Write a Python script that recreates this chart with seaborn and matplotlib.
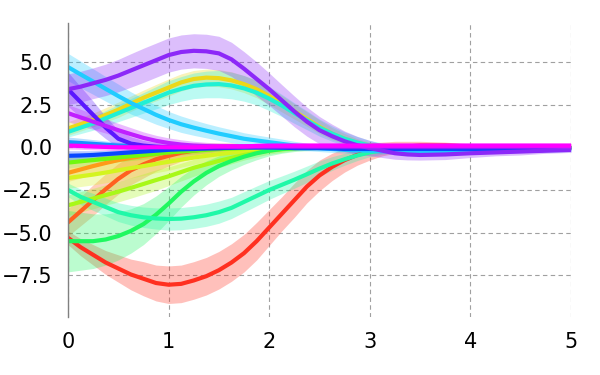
import pandas as pd
import matplotlib
matplotlib.use("Agg")
import matplotlib.pyplot as plt
import seaborn as sns

# ---- data ----
t = [0, 0.125, 0.25, 0.375, 0.5, 0.625, 0.75, 0.875, 1, 1.125, 1.25, 1.375, 1.5, 1.625,
     1.75, 1.875, 2, 2.125, 2.25, 2.375, 2.5, 2.625, 2.75, 2.875, 3, 3.125, 3.25, 3.375, 3.5,
     3.75, 4, 4.25, 4.5, 4.75, 5]

red_mean = [-5.3, -5.85, -6.3, -6.75, -7.1, -7.45, -7.7, -7.95, -8.05, -8.0, -7.8, -7.55, -7.2, -6.75,
            -6.2, -5.5, -4.7, -3.9, -3.1, -2.3, -1.65, -1.15, -0.75, -0.45, -0.25, -0.1, 0.0, 0.05, 0.1,
            0.1, 0.05, 0.05, 0.05, 0.05, 0.05]
red_sd = [0.4, 0.5, 0.6, 0.7, 0.8, 0.9, 1.0, 1.05, 1.1, 1.1, 1.1, 1.1, 1.1, 1.1,
          1.1, 1.1, 1.05, 1.0, 1.0, 0.95, 0.9, 0.8, 0.7, 0.6, 0.5, 0.4, 0.35, 0.3, 0.25,
          0.2, 0.15, 0.15, 0.15, 0.15, 0.15]

orangered_mean = [-4.4, -3.75, -3.1, -2.45, -1.85, -1.35, -1.0, -0.7, -0.5, -0.32, -0.2, -0.1, -0.05, 0.0,
                  0.0, 0.0, 0.0, 0.0, 0.0, 0.0, 0.0, 0.0, 0.0, 0.0, 0.0, 0.0, 0.0, 0.0, 0.0,
                  0.0, 0.0, 0.0, 0.0, 0.0, 0.0]
orangered_sd = [0.8, 0.85, 0.9, 0.9, 0.9, 0.85, 0.8, 0.7, 0.6, 0.5, 0.45, 0.35, 0.3, 0.25,
                0.2, 0.2, 0.15, 0.15, 0.15, 0.1, 0.1, 0.1, 0.1, 0.1, 0.1, 0.1, 0.1, 0.1, 0.1,
                0.1, 0.1, 0.1, 0.1, 0.1, 0.1]

orange_mean = [-1.5, -1.3, -1.1, -0.92, -0.75, -0.62, -0.5, -0.4, -0.3, -0.22, -0.15, -0.1, -0.05, -0.02,
               0.0, 0.0, 0.0, 0.0, 0.0, 0.0, 0.0, 0.0, 0.0, 0.0, 0.0, 0.0, 0.0, 0.0, 0.0,
               0.0, 0.0, 0.0, 0.0, 0.0, 0.0]
orange_sd = [0.5, 0.5, 0.5, 0.5, 0.5, 0.48, 0.45, 0.42, 0.4, 0.35, 0.3, 0.25, 0.2, 0.18,
             0.15, 0.12, 0.1, 0.1, 0.1, 0.1, 0.1, 0.1, 0.1, 0.1, 0.1, 0.1, 0.1, 0.1, 0.1,
             0.1, 0.1, 0.1, 0.1, 0.1, 0.1]

gold_mean = [1.1, 1.35, 1.6, 1.9, 2.2, 2.55, 2.9, 3.2, 3.5, 3.8, 4.0, 4.08, 4.05, 3.92,
             3.7, 3.4, 3.0, 2.55, 2.1, 1.65, 1.2, 0.8, 0.5, 0.25, 0.1, 0.0, -0.05, -0.05, -0.05,
             0.0, 0.0, 0.0, 0.0, 0.0, 0.0]
gold_sd = [0.4, 0.4, 0.4, 0.42, 0.45, 0.45, 0.45, 0.48, 0.5, 0.5, 0.5, 0.5, 0.5, 0.5,
           0.5, 0.5, 0.5, 0.48, 0.45, 0.42, 0.4, 0.35, 0.3, 0.25, 0.2, 0.18, 0.15, 0.12, 0.1,
           0.1, 0.1, 0.1, 0.1, 0.1, 0.1]

yellowgreen_mean = [-1.8, -1.7, -1.6, -1.48, -1.35, -1.22, -1.1, -0.97, -0.85, -0.72, -0.6, -0.5, -0.4, -0.32,
                    -0.25, -0.17, -0.1, -0.05, 0.0, 0.0, 0.0, 0.0, 0.0, 0.0, 0.0, 0.0, 0.0, 0.0, 0.0,
                    0.0, 0.0, 0.0, 0.0, 0.0, 0.0]
yellowgreen_sd = [0.6, 0.6, 0.6, 0.6, 0.6, 0.58, 0.55, 0.52, 0.5, 0.45, 0.4, 0.35, 0.3, 0.25,
                  0.2, 0.18, 0.15, 0.12, 0.1, 0.1, 0.1, 0.1, 0.1, 0.1, 0.1, 0.1, 0.1, 0.1, 0.1,
                  0.1, 0.1, 0.1, 0.1, 0.1, 0.1]

chartreuse_mean = [-3.4, -3.2, -3.0, -2.8, -2.6, -2.38, -2.15, -1.92, -1.7, -1.45, -1.2, -1.0, -0.8, -0.62,
                   -0.45, -0.32, -0.2, -0.12, -0.05, -0.02, 0.0, 0.0, 0.0, 0.0, 0.0, 0.0, 0.0, 0.0, 0.0,
                   0.0, 0.0, 0.0, 0.0, 0.0, 0.0]
chartreuse_sd = [0.6, 0.6, 0.6, 0.6, 0.6, 0.6, 0.6, 0.6, 0.55, 0.52, 0.5, 0.45, 0.4, 0.35,
                 0.3, 0.25, 0.2, 0.18, 0.15, 0.12, 0.1, 0.1, 0.1, 0.1, 0.1, 0.1, 0.1, 0.1, 0.1,
                 0.1, 0.1, 0.1, 0.1, 0.1, 0.1]

lime_mean = [-0.9, -0.82, -0.75, -0.68, -0.6, -0.52, -0.45, -0.38, -0.3, -0.25, -0.2, -0.15, -0.1, -0.07,
             -0.05, -0.02, 0.0, 0.0, 0.0, 0.0, 0.0, 0.0, 0.0, 0.0, 0.0, 0.0, 0.0, 0.0, 0.0,
             0.0, 0.0, 0.0, 0.0, 0.0, 0.0]
lime_sd = [0.3, 0.3, 0.3, 0.28, 0.25, 0.25, 0.25, 0.22, 0.2, 0.2, 0.2, 0.18, 0.15, 0.15,
           0.15, 0.12, 0.1, 0.1, 0.1, 0.1, 0.1, 0.1, 0.1, 0.1, 0.1, 0.1, 0.1, 0.1, 0.1,
           0.1, 0.1, 0.1, 0.1, 0.1, 0.1]

green_mean = [-5.5, -5.5, -5.5, -5.4, -5.2, -4.9, -4.5, -3.95, -3.3, -2.6, -2.0, -1.5, -1.1, -0.8,
              -0.55, -0.35, -0.2, -0.1, -0.05, -0.02, 0.0, 0.0, 0.0, 0.0, 0.0, 0.0, 0.0, 0.0, 0.0,
              0.0, 0.0, 0.0, 0.0, 0.0, 0.0]
green_sd = [1.8, 1.7, 1.6, 1.5, 1.4, 1.3, 1.2, 1.1, 1.0, 0.9, 0.8, 0.7, 0.6, 0.52,
            0.45, 0.38, 0.3, 0.25, 0.2, 0.18, 0.15, 0.12, 0.1, 0.1, 0.1, 0.1, 0.1, 0.1, 0.1,
            0.1, 0.1, 0.1, 0.1, 0.1, 0.1]

spring_mean = [-2.5, -2.9, -3.2, -3.5, -3.8, -3.98, -4.1, -4.17, -4.2, -4.18, -4.1, -3.98, -3.8, -3.55,
               -3.2, -2.85, -2.5, -2.2, -1.9, -1.58, -1.25, -0.95, -0.7, -0.48, -0.3, -0.18, -0.1, -0.05, 0.0,
               0.0, 0.0, 0.0, 0.0, 0.0, 0.0]
spring_sd = [0.4, 0.45, 0.5, 0.52, 0.55, 0.58, 0.6, 0.62, 0.65, 0.65, 0.65, 0.65, 0.65, 0.62,
             0.6, 0.58, 0.55, 0.52, 0.5, 0.48, 0.45, 0.4, 0.35, 0.3, 0.25, 0.22, 0.2, 0.18, 0.15,
             0.1, 0.1, 0.1, 0.1, 0.1, 0.1]

turquoise_mean = [0.9, 1.15, 1.4, 1.7, 2.0, 2.3, 2.6, 2.9, 3.2, 3.42, 3.6, 3.68, 3.7, 3.62,
                  3.45, 3.2, 2.85, 2.45, 2.0, 1.58, 1.15, 0.8, 0.5, 0.28, 0.1, 0.0, -0.05, -0.03, 0.0,
                  0.0, 0.0, 0.0, 0.0, 0.0, 0.0]
turquoise_sd = [0.3, 0.35, 0.4, 0.45, 0.5, 0.55, 0.6, 0.65, 0.7, 0.72, 0.75, 0.78, 0.8, 0.78,
                0.75, 0.72, 0.7, 0.65, 0.6, 0.55, 0.5, 0.45, 0.4, 0.35, 0.3, 0.25, 0.2, 0.18, 0.15,
                0.1, 0.1, 0.1, 0.1, 0.1, 0.1]

deepsky_mean = [4.7, 4.27, 3.85, 3.42, 3.0, 2.6, 2.25, 1.9, 1.6, 1.35, 1.15, 0.97, 0.8, 0.65,
                0.5, 0.4, 0.3, 0.2, 0.1, 0.02, -0.05, -0.1, -0.15, -0.18, -0.2, -0.22, -0.25, -0.25, -0.25,
                -0.25, -0.2, -0.2, -0.15, -0.15, -0.1]
deepsky_sd = [0.8, 0.78, 0.75, 0.72, 0.7, 0.65, 0.6, 0.55, 0.5, 0.48, 0.45, 0.42, 0.4, 0.38,
              0.35, 0.32, 0.3, 0.28, 0.25, 0.22, 0.2, 0.2, 0.2, 0.18, 0.15, 0.15, 0.15, 0.15, 0.15,
              0.15, 0.15, 0.15, 0.15, 0.15, 0.15]

dodger_mean = [0.3, 0.25, 0.2, 0.15, 0.1, 0.07, 0.05, 0.02, 0.0, 0.0, 0.0, 0.0, 0.0, 0.0,
               0.0, 0.0, 0.0, 0.0, 0.0, 0.0, 0.0, 0.0, 0.0, 0.0, 0.0, 0.0, 0.0, 0.0, 0.0,
               0.0, 0.0, 0.0, 0.0, 0.0, 0.0]
dodger_sd = [0.3, 0.28, 0.25, 0.22, 0.2, 0.18, 0.15, 0.12, 0.1, 0.1, 0.1, 0.1, 0.1, 0.1,
             0.1, 0.1, 0.1, 0.1, 0.1, 0.1, 0.1, 0.1, 0.1, 0.1, 0.1, 0.1, 0.1, 0.1, 0.1,
             0.1, 0.1, 0.1, 0.1, 0.1, 0.1]

blue_mean = [-0.5, -0.48, -0.45, -0.4, -0.35, -0.3, -0.25, -0.2, -0.15, -0.12, -0.1, -0.07, -0.05, -0.02,
             0.0, 0.0, 0.0, -0.02, -0.05, -0.05, -0.05, -0.07, -0.1, -0.1, -0.1, -0.1, -0.1, -0.1, -0.1,
             -0.1, -0.1, -0.1, -0.1, -0.1, -0.1]
blue_sd = [0.3, 0.28, 0.25, 0.22, 0.2, 0.2, 0.2, 0.18, 0.15, 0.15, 0.15, 0.12, 0.1, 0.1,
           0.1, 0.1, 0.1, 0.1, 0.1, 0.1, 0.1, 0.1, 0.1, 0.1, 0.1, 0.1, 0.1, 0.1, 0.1,
           0.1, 0.1, 0.1, 0.1, 0.1, 0.1]

indigo_mean = [3.4, 2.65, 1.9, 1.15, 0.5, 0.22, 0.1, 0.03, 0.0, -0.03, -0.05, -0.05, -0.05, -0.02,
               0.0, 0.0, 0.0, 0.0, 0.0, 0.0, 0.0, 0.0, 0.0, 0.0, 0.0, 0.0, 0.0, 0.0, 0.0,
               0.0, 0.0, 0.0, 0.0, 0.0, 0.0]
indigo_sd = [1.0, 0.9, 0.8, 0.65, 0.5, 0.4, 0.3, 0.25, 0.2, 0.18, 0.15, 0.12, 0.1, 0.1,
             0.1, 0.1, 0.1, 0.1, 0.1, 0.1, 0.1, 0.1, 0.1, 0.1, 0.1, 0.1, 0.1, 0.1, 0.1,
             0.1, 0.1, 0.1, 0.1, 0.1, 0.1]

purple_mean = [3.4, 3.55, 3.75, 3.95, 4.2, 4.5, 4.8, 5.1, 5.4, 5.58, 5.65, 5.62, 5.5, 5.15,
               4.6, 4.0, 3.4, 2.75, 2.1, 1.5, 1.0, 0.65, 0.35, 0.12, -0.05, -0.2, -0.35, -0.42, -0.45,
               -0.42, -0.35, -0.3, -0.25, -0.2, -0.15]
purple_sd = [0.9, 0.9, 0.9, 0.92, 0.95, 0.98, 1.0, 1.0, 1.0, 1.0, 1.0, 1.0, 1.0, 1.0,
             1.0, 1.0, 0.95, 0.92, 0.9, 0.85, 0.8, 0.7, 0.6, 0.52, 0.45, 0.4, 0.35, 0.32, 0.3,
             0.3, 0.25, 0.2, 0.2, 0.15, 0.15]

violet_mean = [2.0, 1.75, 1.5, 1.25, 1.0, 0.77, 0.55, 0.38, 0.25, 0.16, 0.1, 0.07, 0.05, 0.05,
               0.05, 0.05, 0.05, 0.05, 0.05, 0.05, 0.05, 0.05, 0.05, 0.05, 0.05, 0.05, 0.05, 0.05, 0.05,
               0.05, 0.05, 0.05, 0.05, 0.05, 0.05]
violet_sd = [0.5, 0.48, 0.45, 0.42, 0.4, 0.38, 0.35, 0.32, 0.3, 0.28, 0.25, 0.22, 0.2, 0.18,
             0.15, 0.15, 0.15, 0.15, 0.15, 0.15, 0.15, 0.15, 0.15, 0.15, 0.15, 0.15, 0.15, 0.15, 0.15,
             0.15, 0.15, 0.15, 0.15, 0.15, 0.15]

magenta_mean = [0.1, 0.08, 0.05, 0.02, 0.0, 0.0, 0.0, 0.0, 0.0, 0.0, 0.0, 0.02, 0.05, 0.05,
                0.05, 0.08, 0.1, 0.1, 0.1, 0.1, 0.1, 0.1, 0.1, 0.1, 0.1, 0.1, 0.1, 0.1, 0.1,
                0.1, 0.1, 0.1, 0.1, 0.1, 0.1]
magenta_sd = [0.2, 0.2, 0.2, 0.2, 0.2, 0.2, 0.2, 0.2, 0.15, 0.15, 0.15, 0.15, 0.15, 0.15,
              0.15, 0.15, 0.15, 0.15, 0.15, 0.15, 0.15, 0.15, 0.15, 0.15, 0.15, 0.15, 0.15, 0.15, 0.15,
              0.15, 0.15, 0.15, 0.15, 0.15, 0.15]

series = [
    ("red", red_mean, red_sd),
    ("orangered", orangered_mean, orangered_sd),
    ("orange", orange_mean, orange_sd),
    ("gold", gold_mean, gold_sd),
    ("yellowgreen", yellowgreen_mean, yellowgreen_sd),
    ("chartreuse", chartreuse_mean, chartreuse_sd),
    ("lime", lime_mean, lime_sd),
    ("green", green_mean, green_sd),
    ("spring", spring_mean, spring_sd),
    ("turquoise", turquoise_mean, turquoise_sd),
    ("deepsky", deepsky_mean, deepsky_sd),
    ("dodger", dodger_mean, dodger_sd),
    ("blue", blue_mean, blue_sd),
    ("indigo", indigo_mean, indigo_sd),
    ("purple", purple_mean, purple_sd),
    ("violet", violet_mean, violet_sd),
    ("magenta", magenta_mean, magenta_sd),
]
for name, m, s in series:
    assert len(m) == len(t) and len(s) == len(t), name

# line colours
line_colors = ["#ff3020", "#ff6020", "#ff9a18", "#ecd818", "#d4f420", "#a8f818",
               "#70f810", "#20f860", "#20f8a8", "#20f0d4", "#20ccff", "#1890ff",
               "#0848ff", "#5a18ff", "#8c28f8", "#c020ff", "#ff00ff"]

# long table: each x gets a low and a high row, so mean = line, min/max = band
rows = []
for name, m, s in series:
    for x, mi, si in zip(t, m, s):
        rows.append((name, x, mi - si))
        rows.append((name, x, mi + si))
df = pd.DataFrame(rows, columns=["line", "t", "value"])

names = [n for n, _, _ in series]
palette = dict(zip(names, line_colors))

# ---- plot ----
sns.set_style("white")
fig = plt.figure(figsize=(6, 3.75), dpi=100)
ax = fig.add_axes([0.1133, 0.1547, 0.8384, 0.784])

sns.lineplot(data=df, x="t", y="value", hue="line", hue_order=names,
             palette=palette, estimator="mean",
             errorbar=lambda v: (v.min(), v.max()),
             linewidth=3, legend=False,
             err_kws={"alpha": 0.3, "linewidth": 0}, ax=ax)

ax.set_xlim(0, 5)
ax.set_ylim(-9.94, 7.28)
ax.set_xticks([0, 1, 2, 3, 4, 5])
ax.set_yticks([-7.5, -5.0, -2.5, 0.0, 2.5, 5.0])
ax.set_yticklabels([f"{v:.1f}".replace("-", "\u2212") for v in [-7.5, -5.0, -2.5, 0.0, 2.5, 5.0]])
ax.set_xlabel("")
ax.set_ylabel("")
ax.grid(True, color="#a0a0a0", linestyle=(0, (4, 3)), linewidth=0.8)
ax.set_axisbelow(True)
for side in ["top", "right", "bottom"]:
    ax.spines[side].set_visible(False)
ax.spines["left"].set_color("#808080")
ax.spines["left"].set_linewidth(1.0)
ax.tick_params(axis="both", length=0, pad=11, labelsize=15, colors="black")

fig.savefig("out.png", dpi=100)
